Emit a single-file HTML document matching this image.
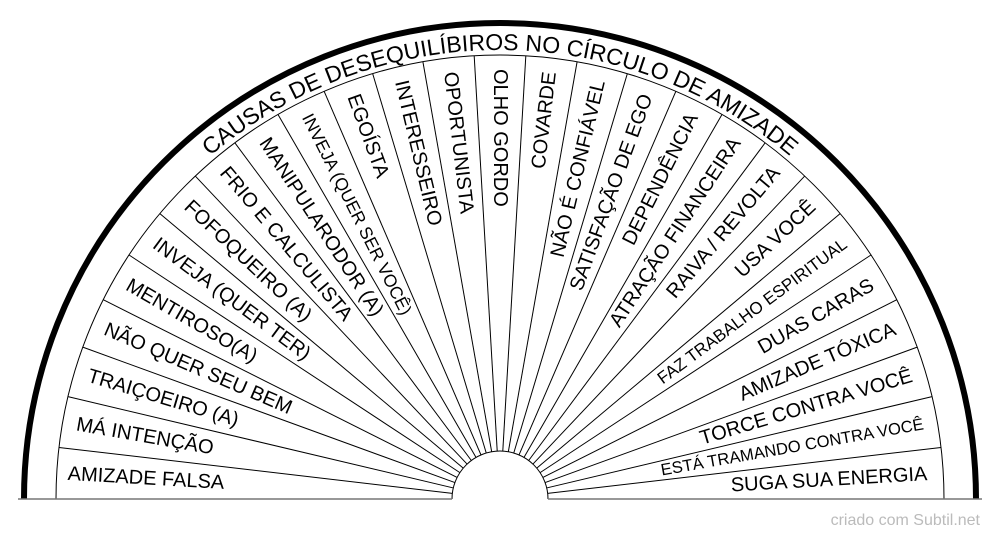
<!DOCTYPE html>
<html><head><meta charset="utf-8"><style>
html,body{margin:0;padding:0;background:#fff;}
svg, svg text{font-family:"Liberation Sans",Arial,sans-serif;}
</style></head><body>
<svg width="1000" height="540" viewBox="0 0 1000 540" xmlns="http://www.w3.org/2000/svg" font-family="Liberation Sans, Arial, sans-serif">
<defs><path id="arc" d="M51,499 A449,449 0 0 1 949,499"/></defs>
<path d="M24,499 A476,476 0 0 1 976,499" fill="none" stroke="#000" stroke-width="6"/>
<path d="M56,499 A444,444 0 0 1 944,499" fill="none" stroke="#000" stroke-width="1"/>
<path d="M452,499 A48,48 0 0 1 548,499" fill="none" stroke="#000" stroke-width="1"/>
<line x1="18" y1="499" x2="452" y2="499" stroke="#777" stroke-width="1.5"/>
<line x1="548" y1="499" x2="982" y2="499" stroke="#777" stroke-width="1.5"/>
<g stroke="#000" stroke-width="1">
<line x1="56" y1="499" x2="452" y2="499" transform="rotate(6.6667 500 499)"/>
<line x1="56" y1="499" x2="452" y2="499" transform="rotate(13.3333 500 499)"/>
<line x1="56" y1="499" x2="452" y2="499" transform="rotate(20 500 499)"/>
<line x1="56" y1="499" x2="452" y2="499" transform="rotate(26.6667 500 499)"/>
<line x1="56" y1="499" x2="452" y2="499" transform="rotate(33.3333 500 499)"/>
<line x1="56" y1="499" x2="452" y2="499" transform="rotate(40 500 499)"/>
<line x1="56" y1="499" x2="452" y2="499" transform="rotate(46.6667 500 499)"/>
<line x1="56" y1="499" x2="452" y2="499" transform="rotate(53.3333 500 499)"/>
<line x1="56" y1="499" x2="452" y2="499" transform="rotate(60 500 499)"/>
<line x1="56" y1="499" x2="452" y2="499" transform="rotate(66.6667 500 499)"/>
<line x1="56" y1="499" x2="452" y2="499" transform="rotate(73.3333 500 499)"/>
<line x1="56" y1="499" x2="452" y2="499" transform="rotate(80 500 499)"/>
<line x1="56" y1="499" x2="452" y2="499" transform="rotate(86.6667 500 499)"/>
<line x1="56" y1="499" x2="452" y2="499" transform="rotate(93.3333 500 499)"/>
<line x1="56" y1="499" x2="452" y2="499" transform="rotate(100 500 499)"/>
<line x1="56" y1="499" x2="452" y2="499" transform="rotate(106.6667 500 499)"/>
<line x1="56" y1="499" x2="452" y2="499" transform="rotate(113.3333 500 499)"/>
<line x1="56" y1="499" x2="452" y2="499" transform="rotate(120 500 499)"/>
<line x1="56" y1="499" x2="452" y2="499" transform="rotate(126.6667 500 499)"/>
<line x1="56" y1="499" x2="452" y2="499" transform="rotate(133.3333 500 499)"/>
<line x1="56" y1="499" x2="452" y2="499" transform="rotate(140 500 499)"/>
<line x1="56" y1="499" x2="452" y2="499" transform="rotate(146.6667 500 499)"/>
<line x1="56" y1="499" x2="452" y2="499" transform="rotate(153.3333 500 499)"/>
<line x1="56" y1="499" x2="452" y2="499" transform="rotate(160 500 499)"/>
<line x1="56" y1="499" x2="452" y2="499" transform="rotate(166.6667 500 499)"/>
<line x1="56" y1="499" x2="452" y2="499" transform="rotate(173.3333 500 499)"/>
</g>
<g font-size="20" fill="#000" dominant-baseline="central">
<text x="67" y="499" transform="rotate(3.3333 500 499)">AMIZADE FALSA</text>
<text x="70" y="499" transform="rotate(10 500 499)">MÁ INTENÇÃO</text>
<text x="70" y="499" transform="rotate(16.6667 500 499)">TRAIÇOEIRO (A)</text>
<text x="70" y="499" transform="rotate(23.3333 500 499)">NÃO QUER SEU BEM</text>
<text x="70" y="499" transform="rotate(30 500 499)">MENTIROSO(A)</text>
<text x="70" y="499" transform="rotate(36.6667 500 499)">INVEJA (QUER TER)</text>
<text x="70" y="499" transform="rotate(43.3333 500 499)">FOFOQUEIRO (A)</text>
<text x="70" y="499" transform="rotate(50 500 499)">FRIO E CALCULISTA</text>
<text x="70" y="499" transform="rotate(56.6667 500 499)">MANIPULARODOR (A)</text>
<text x="70" y="499" font-size="17.5" transform="rotate(63.3333 500 499)">INVEJA (QUER SER VOCÊ)</text>
<text x="70" y="499" transform="rotate(70 500 499)">EGOÍSTA</text>
<text x="70" y="499" transform="rotate(76.6667 500 499)">INTERESSEIRO</text>
<text x="70" y="499" transform="rotate(83.3333 500 499)">OPORTUNISTA</text>
<text x="70" y="499" transform="rotate(90 500 499)">OLHO GORDO</text>
<g text-anchor="end">
<text x="930" y="499" transform="rotate(-83.3333 500 499)">COVARDE</text>
<text x="930" y="499" transform="rotate(-76.6667 500 499)">NÃO É CONFIÁVEL</text>
<text x="930" y="499" transform="rotate(-70 500 499)">SATISFAÇÃO DE EGO</text>
<text x="930" y="499" transform="rotate(-63.3333 500 499)">DEPENDÊNCIA</text>
<text x="930" y="499" transform="rotate(-56.6667 500 499)">ATRAÇÃO FINANCEIRA</text>
<text x="930" y="499" transform="rotate(-50 500 499)">RAIVA / REVOLTA</text>
<text x="930" y="499" transform="rotate(-43.3333 500 499)">USA VOCÊ</text>
<text x="930" y="499" font-size="17" transform="rotate(-36.6667 500 499)">FAZ TRABALHO ESPIRITUAL</text>
<text x="930" y="499" transform="rotate(-30 500 499)">DUAS CARAS</text>
<text x="930" y="499" transform="rotate(-23.3333 500 499)">AMIZADE TÓXICA</text>
<text x="930" y="499" transform="rotate(-16.6667 500 499)">TORCE CONTRA VOCÊ</text>
<text x="930" y="499" font-size="16.5" transform="rotate(-10 500 499)">ESTÁ TRAMANDO CONTRA VOCÊ</text>
<text x="928" y="499" transform="rotate(-3.3333 500 499)">SUGA SUA ENERGIA</text>
</g>
</g>
<text font-size="23" fill="#000"><textPath href="#arc" startOffset="50%" text-anchor="middle">CAUSAS DE DESEQUILÍBIROS NO CÍRCULO DE AMIZADE</textPath></text>
<text x="980" y="525" font-size="16" fill="#bbb" text-anchor="end">criado com Subtil.net</text>
</svg>
</body></html>
